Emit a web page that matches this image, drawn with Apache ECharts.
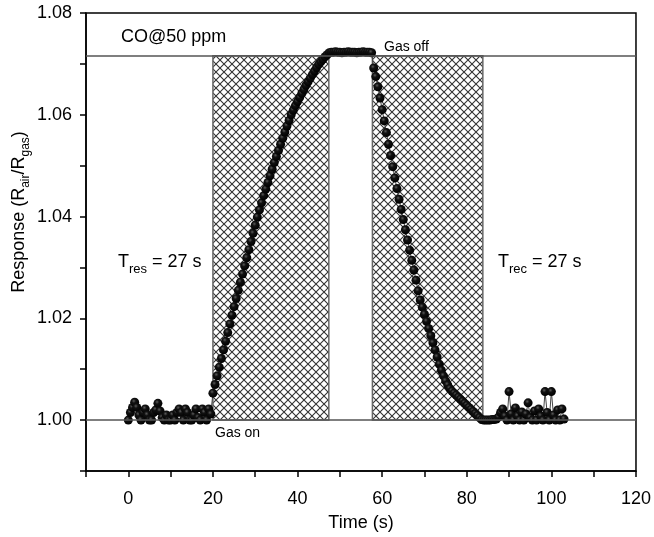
<!DOCTYPE html>
<html>
<head>
<meta charset="utf-8">
<script src="https://cdn.jsdelivr.net/npm/echarts@6/dist/echarts.min.js"></script>
<style>
  html, body { margin: 0; padding: 0; background: #fff; }
  #chart { width: 654px; height: 537px; }
</style>
</head>
<body>
<div id="chart"></div>
<script>
// sensor samples, one every 0.5 s
const SAMPLE_STEP = 0.5

// t = 0 .. 19.5 s, air
const baselineStart = 0
const baselineValues = [
    1.0000, 1.0015, 1.0025, 1.0035, 1.0025, 1.0010, 1.0000, 1.0015, 1.0022, 1.0010,
    1.0000, 1.0000, 1.0015, 1.0020, 1.0033, 1.0018, 1.0005, 1.0000, 1.0010, 1.0000,
    1.0000, 1.0010, 1.0000, 1.0015, 1.0022, 1.0015, 1.0000, 1.0022, 1.0015, 1.0000,
    1.0000, 1.0010, 1.0022, 1.0005, 1.0000, 1.0022, 1.0015, 1.0000, 1.0022, 1.0012
]

// t = 20 .. 47.5 s, gas on
const riseStart = 20
const riseValues = [
    1.0053, 1.0070, 1.0087, 1.0104, 1.0121, 1.0138, 1.0155, 1.0172, 1.0189, 1.0206,
    1.0223, 1.0239, 1.0255, 1.0271, 1.0287, 1.0303, 1.0319, 1.0335, 1.0351, 1.0367,
    1.0383, 1.0399, 1.0413, 1.0427, 1.0441, 1.0454, 1.0467, 1.0480, 1.0493, 1.0506,
    1.0518, 1.0530, 1.0542, 1.0554, 1.0566, 1.0578, 1.0589, 1.0600, 1.0609, 1.0618,
    1.0626, 1.0634, 1.0642, 1.0650, 1.0658, 1.0665, 1.0672, 1.0679, 1.0686, 1.0693,
    1.0699, 1.0704, 1.0709, 1.0714, 1.0718, 1.0722
]

// t = 48 .. 57.5 s, saturated
const plateauStart = 48
const plateauValues = [
    1.0723, 1.0723, 1.0724, 1.0723, 1.0723, 1.0722, 1.0723, 1.0723, 1.0724, 1.0723,
    1.0723, 1.0723, 1.0722, 1.0723, 1.0723, 1.0724, 1.0723, 1.0723, 1.0723, 1.0722
]

// t = 58 .. 83.5 s, gas off
const fallStart = 58
const fallValues = [
    1.0692, 1.0675, 1.0655, 1.0633, 1.0610, 1.0588, 1.0565, 1.0542, 1.0520, 1.0498,
    1.0476, 1.0455, 1.0434, 1.0414, 1.0394, 1.0374, 1.0354, 1.0334, 1.0314, 1.0295,
    1.0275, 1.0254, 1.0236, 1.0222, 1.0208, 1.0194, 1.0180, 1.0166, 1.0152, 1.0138,
    1.0124, 1.0110, 1.0098, 1.0087, 1.0077, 1.0069, 1.0062, 1.0057, 1.0053, 1.0049,
    1.0045, 1.0041, 1.0037, 1.0033, 1.0029, 1.0025, 1.0021, 1.0017, 1.0013, 1.0009,
    1.0005, 1.0001
]

// t = 84 .. 103 s, back in air
const tailStart = 84
const tailValues = [
    1.0000, 1.0000, 1.0000, 1.0000, 1.0001, 1.0001, 1.0002, 1.0006, 1.0015, 1.0022,
    1.0008, 1.0000, 1.0056, 1.0012, 1.0000, 1.0024, 1.0008, 1.0000, 1.0016, 1.0000,
    1.0012, 1.0034, 1.0005, 1.0000, 1.0018, 1.0000, 1.0022, 1.0008, 1.0000, 1.0056,
    1.0015, 1.0000, 1.0056, 1.0010, 1.0000, 1.0020, 1.0000, 1.0022, 1.0002
]

// reference levels and shaded windows
const baselineLevel = 1.0
const saturationLevel = 1.0716
const responseWindow = [20, 47.4]
const recoveryWindow = [57.7, 83.8]

const FONT = '"Liberation Sans", Arial, Helvetica, sans-serif'

const toPoints = (start, values) => values.map((v, i) => [start + i * SAMPLE_STEP, v])

const samples = [
    ...toPoints(baselineStart, baselineValues),
    ...toPoints(riseStart, riseValues),
    ...toPoints(plateauStart, plateauValues),
    ...toPoints(fallStart, fallValues),
    ...toPoints(tailStart, tailValues)
]

const makeHatch = () => {
    const size = 8
    const c = document.createElement('canvas')
    c.width = size
    c.height = size
    const ctx = c.getContext('2d')
    ctx.fillStyle = '#fff'
    ctx.fillRect(0, 0, size, size)
    ctx.strokeStyle = '#333'
    ctx.lineWidth = 1.1
    for (const d of [-size, 0, size]) {
        ctx.beginPath()
        ctx.moveTo(d, 0)
        ctx.lineTo(d + size, size)
        ctx.moveTo(d + size, 0)
        ctx.lineTo(d, size)
        ctx.stroke()
    }
    return c
}

const chart = echarts.init(document.getElementById('chart'))

const hatchStyle = {
    color: { image: makeHatch(), repeat: 'repeat' },
    borderColor: '#666',
    borderWidth: 1.5
}

const richLabel = {
    t: { fontFamily: FONT, fontSize: 18, lineHeight: 28, fill: '#000' },
    s: { fontFamily: FONT, fontSize: 13, lineHeight: 13, verticalAlign: 'bottom', fill: '#000' }
}

chart.setOption({
    animation: false,
    grid: {
        left: 86,
        right: 16,
        top: 13,
        bottom: 64,
        show: true,
        borderColor: '#000',
        borderWidth: 1.5
    },
    xAxis: {
        type: 'value',
        min: -10,
        max: 120,
        interval: 10,
        name: 'Time (s)',
        nameLocation: 'middle',
        nameGap: 43,
        nameTextStyle: { fontFamily: FONT, fontSize: 18, color: '#000' },
        axisLine: { onZero: false, lineStyle: { color: '#000', width: 1.5 } },
        axisTick: { length: 6, lineStyle: { color: '#000', width: 1.5 } },
        axisLabel: {
            margin: 19,
            fontFamily: FONT,
            fontSize: 18,
            color: '#000',
            formatter: v => (v % 20 === 0 ? String(v) : '')
        },
        splitLine: { show: false }
    },
    yAxis: {
        type: 'value',
        min: 0.99,
        max: 1.08,
        interval: 0.01,
        axisLine: { show: true, onZero: false, lineStyle: { color: '#000', width: 1.5 } },
        axisTick: { show: true, length: 6, lineStyle: { color: '#000', width: 1.5 } },
        axisLabel: {
            margin: 14,
            fontFamily: FONT,
            fontSize: 18,
            color: '#000',
            formatter: v => {
                const k = Math.round(v * 100)
                return k % 2 === 0 ? (k / 100).toFixed(2) : ''
            }
        },
        splitLine: { show: false }
    },
    graphic: [
        {
            type: 'text', left: 121, top: 28,
            style: { text: 'CO@50 ppm', font: '18px ' + FONT, fill: '#000' }
        },
        {
            type: 'text', left: 384, top: 40,
            style: { text: 'Gas off', font: '14px ' + FONT, fill: '#000' }
        },
        {
            type: 'text', left: 215, top: 426,
            style: { text: 'Gas on', font: '14px ' + FONT, fill: '#000' }
        },
        {
            type: 'text', left: 118, top: 253,
            style: { text: '{t|T}{s|res}{t| = 27 s}', rich: richLabel }
        },
        {
            type: 'text', left: 498, top: 253,
            style: { text: '{t|T}{s|rec}{t| = 27 s}', rich: richLabel }
        },
        {
            type: 'text', x: 19, y: 212, rotation: Math.PI / 2,
            style: {
                text: '{t|Response (R}{s|air}{t|/R}{s|gas}{t|)}',
                align: 'center',
                verticalAlign: 'middle',
                rich: {
                    t: { fontFamily: FONT, fontSize: 18, lineHeight: 26, fill: '#000' },
                    s: { fontFamily: FONT, fontSize: 12, lineHeight: 12, verticalAlign: 'bottom', fill: '#000' }
                }
            }
        }
    ],
    series: [
        {
            type: 'line',
            data: samples,
            symbol: 'circle',
            symbolSize: 9,
            showAllSymbol: true,
            lineStyle: { color: '#444', width: 1 },
            itemStyle: {
                color: {
                    type: 'radial', x: 0.4, y: 0.35, r: 0.65,
                    colorStops: [
                        { offset: 0, color: '#5a5a5a' },
                        { offset: 0.35, color: '#111' },
                        { offset: 1, color: '#000' }
                    ]
                },
                borderWidth: 0
            },
            emphasis: { disabled: true },
            markArea: {
                silent: true,
                itemStyle: hatchStyle,
                data: [
                    [{ xAxis: responseWindow[0], yAxis: baselineLevel }, { xAxis: responseWindow[1], yAxis: saturationLevel }],
                    [{ xAxis: recoveryWindow[0], yAxis: baselineLevel }, { xAxis: recoveryWindow[1], yAxis: saturationLevel }]
                ]
            },
            markLine: {
                silent: true,
                symbol: 'none',
                precision: 4,
                label: { show: false },
                lineStyle: { color: '#555', width: 1.5, type: 'solid' },
                data: [{ yAxis: baselineLevel }, { yAxis: saturationLevel }]
            }
        }
    ]
})
</script>
</body>
</html>
